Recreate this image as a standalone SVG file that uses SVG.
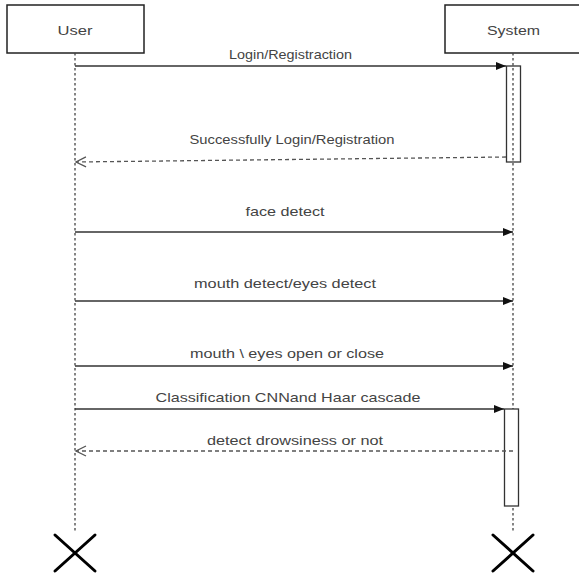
<svg xmlns="http://www.w3.org/2000/svg" width="579" height="577" viewBox="0 0 579 577">
<defs>
<style>
.box{fill:#fff;stroke:#222;stroke-width:1.5}
.life{stroke:#444;stroke-width:1.3;stroke-dasharray:2.5,2.5;fill:none}
.msg{stroke:#333;stroke-width:1.3;fill:none}
.ret{stroke:#555;stroke-width:1.3;stroke-dasharray:4,3;fill:none}
.act{stroke:#333;stroke-width:1.3}
.lbl{font-family:"Liberation Sans",Arial,sans-serif;font-size:13px;fill:#444;text-anchor:middle}
.hdr{font-family:"Liberation Sans",Arial,sans-serif;font-size:13.5px;fill:#444;text-anchor:middle}
.x{stroke:#000;stroke-width:3;stroke-linecap:round}
</style>
<marker id="block" viewBox="0 0 10 8" refX="10" refY="4" markerWidth="10" markerHeight="8" markerUnits="userSpaceOnUse" orient="auto">
<path d="M0,0 L10,4 L0,8 Z" fill="#111"/>
</marker>
<marker id="open" viewBox="0 0 12 12" refX="11" refY="6" markerWidth="12" markerHeight="12" markerUnits="userSpaceOnUse" orient="auto">
<path d="M1,1 L11,6 L1,11" fill="none" stroke="#555" stroke-width="1.3"/>
</marker>
</defs>
<rect width="579" height="577" fill="#fff"/>
<g id="user">
<rect class="box" x="7" y="5" width="137" height="48"/>
<text class="hdr" x="75" y="35" textLength="35" lengthAdjust="spacingAndGlyphs">User</text>
<line class="life" x1="75" y1="53" x2="75" y2="533"/>
<line class="x" x1="55" y1="535" x2="95" y2="571"/>
<line class="x" x1="95" y1="535" x2="55" y2="571"/>
</g>
<g id="system">
<rect class="box" x="445" y="5" width="140" height="48"/>
<text class="hdr" x="513.5" y="35" textLength="53" lengthAdjust="spacingAndGlyphs">System</text>
<line class="life" x1="513" y1="53" x2="513" y2="533"/>
<rect class="act" x="506.5" y="66" width="14" height="96" fill="none"/>
<rect class="act" x="504.5" y="409" width="14" height="97" fill="#fff"/>
<line class="x" x1="493" y1="535" x2="533" y2="571"/>
<line class="x" x1="533" y1="535" x2="493" y2="571"/>
</g>
<g id="connectors">
<line class="msg" x1="75" y1="66" x2="506" y2="66" marker-end="url(#block)"/>
<text class="lbl" x="290.5" y="59" textLength="123" lengthAdjust="spacingAndGlyphs">Login/Registraction</text>
<line class="ret" x1="506" y1="157" x2="76" y2="162" marker-end="url(#open)"/>
<text class="lbl" x="292" y="143.5" textLength="205" lengthAdjust="spacingAndGlyphs">Successfully Login/Registration</text>
<line class="msg" x1="75" y1="232" x2="513" y2="232" marker-end="url(#block)"/>
<text class="lbl" x="285" y="215.5" textLength="79" lengthAdjust="spacingAndGlyphs">face detect</text>
<line class="msg" x1="75" y1="301" x2="513" y2="301" marker-end="url(#block)"/>
<text class="lbl" x="285" y="287.5" textLength="182" lengthAdjust="spacingAndGlyphs">mouth detect/eyes detect</text>
<line class="msg" x1="75" y1="366" x2="513" y2="366" marker-end="url(#block)"/>
<text class="lbl" x="287" y="357.5" textLength="194" lengthAdjust="spacingAndGlyphs">mouth \ eyes open or close</text>
<line class="msg" x1="75" y1="409" x2="504" y2="409" marker-end="url(#block)"/>
<text class="lbl" x="288" y="401.5" textLength="265" lengthAdjust="spacingAndGlyphs">Classification CNNand Haar cascade</text>
<line class="ret" x1="513" y1="451" x2="76" y2="451" marker-end="url(#open)"/>
<text class="lbl" x="295" y="444.5" textLength="176" lengthAdjust="spacingAndGlyphs">detect drowsiness or not</text>
</g>
</svg>
